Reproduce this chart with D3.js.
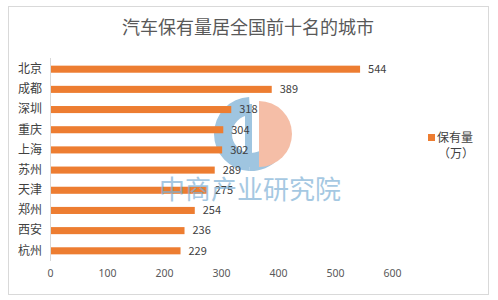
<!DOCTYPE html>
<html>
<head>
<meta charset="utf-8">
<style>
  body { margin: 0; background: #fff; }
  svg { display: block; font-family: "Noto Sans CJK SC", "Noto Sans", sans-serif; }
  .axis .domain { display: none; }
  .x .tick line { display: none; }
</style>
</head>
<body>
<svg width="498" height="300"></svg>
<script src="https://d3js.org/d3.v7.min.js"></script>
<script>
  let cities = ["北京", "成都", "深圳", "重庆", "上海", "苏州", "天津", "郑州", "西安", "杭州"];
  let values = [544, 389, 318, 304, 302, 289, 275, 254, 236, 229];
  let ticks = [0, 100, 200, 300, 400, 500, 600];

  let svg = d3.select("svg");

  // chart frame
  svg.append("rect")
    .attr("x", 8.5).attr("y", 6.5)
    .attr("width", 480).attr("height", 288)
    .attr("fill", "#fff")
    .attr("stroke", "#d9d9d9");

  svg.append("text")
    .attr("x", 248).attr("y", 34)
    .attr("text-anchor", "middle")
    .style("font-size", "18px")
    .style("fill", "#595959")
    .text("汽车保有量居全国前十名的城市");

  let x = d3.scaleLinear().domain([0, 600]).range([50, 392]);
  let y = d3.scaleBand().domain(cities).range([59, 261]).paddingInner(0.65).paddingOuter(0.33);

  // vertical axis line
  svg.append("line")
    .attr("x1", x(0) + 0.5).attr("x2", x(0) + 0.5)
    .attr("y1", 58).attr("y2", 261)
    .attr("stroke", "#d9d9d9");

  // watermark logo (behind labels)
  let logo = svg.append("g").attr("opacity", 0.75);
  let cx = 251, cy = 134;
  logo.append("path")
    .attr("transform", `translate(${cx},${cy})`)
    .attr("d", d3.arc().innerRadius(19).outerRadius(37).startAngle(-0.05).endAngle(-Math.PI + 0.05)())
    .attr("fill", "#7fb2d6");
  logo.append("path")
    .attr("transform", `translate(${cx},${cy})`)
    .attr("d", d3.arc().innerRadius(19).outerRadius(37).startAngle(-Math.PI + 0.05).endAngle(-Math.PI * 1.55)())
    .attr("fill", "#7fb2d6");
  logo.append("rect")
    .attr("x", cx - 6).attr("y", cy - 30).attr("width", 7).attr("height", 63)
    .attr("fill", "#7fb2d6");
  logo.append("path")
    .attr("transform", `translate(${cx + 8},${cy})`)
    .attr("d", d3.arc().innerRadius(0).outerRadius(33).startAngle(0).endAngle(Math.PI)())
    .attr("fill", "#f2a98a");

  // bars
  svg.append("g")
    .selectAll("rect")
    .data(values)
    .join("rect")
    .attr("x", x(0) + 1)
    .attr("y", (d, i) => y(cities[i]))
    .attr("width", d => x(d) - x(0) - 1)
    .attr("height", y.bandwidth())
    .attr("fill", "#ed7d31");

  // value labels
  svg.append("g")
    .selectAll("text")
    .data(values)
    .join("text")
    .attr("x", d => x(d) + 8)
    .attr("y", (d, i) => y(cities[i]) + y.bandwidth() / 2)
    .attr("dy", "0.35em")
    .style("font-size", "11px")
    .style("fill", "#404040")
    .text(d => d);

  // category axis
  svg.append("g")
    .attr("class", "axis y")
    .attr("transform", `translate(${x(0)},0)`)
    .call(d3.axisLeft(y).tickSize(0).tickPadding(8))
    .call(g => g.selectAll("text").style("font-size", "12px").style("fill", "#404040")
      .style("font-family", "'Noto Sans CJK SC', sans-serif"));

  // value axis
  svg.append("g")
    .attr("class", "axis x")
    .attr("transform", "translate(0,266)")
    .call(d3.axisBottom(x).tickValues(ticks).tickSize(0).tickPadding(4))
    .call(g => g.selectAll("text").style("font-size", "10.5px").style("fill", "#595959")
      .style("font-family", "'Noto Sans', sans-serif"));

  // watermark text
  svg.append("text")
    .attr("x", 250).attr("y", 199)
    .attr("text-anchor", "middle")
    .style("font-size", "26px")
    .style("fill", "#7fb2d6")
    .style("opacity", 0.7)
    .text("中商产业研究院");

  // legend
  svg.append("rect")
    .attr("x", 428).attr("y", 134).attr("width", 7).attr("height", 7)
    .attr("fill", "#ed7d31");
  svg.append("text")
    .attr("x", 437).attr("y", 142)
    .style("font-size", "12px").style("fill", "#404040")
    .text("保有量");
  svg.append("text")
    .attr("x", 438).attr("y", 158)
    .style("font-size", "12px").style("fill", "#404040")
    .text("（万）");
</script>
</body>
</html>
